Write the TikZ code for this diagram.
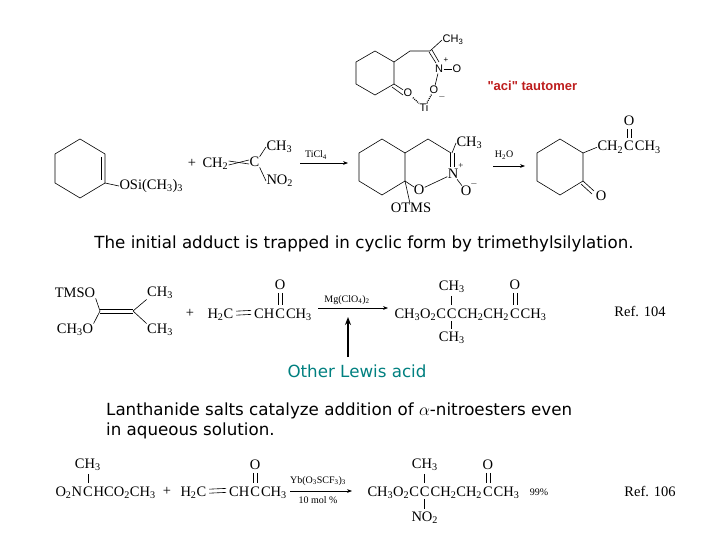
\documentclass[tikz,border=0pt]{standalone}
\usepackage{fontspec}
\setmainfont{Liberation Serif}
\newfontfamily\capf{DejaVu Sans}
\newfontfamily\arf{Liberation Sans}
\usetikzlibrary{arrows.meta}
\newcommand\ssub[1]{\textsubscript{#1}}
\definecolor{teal2}{RGB}{0,128,128}
\definecolor{aci}{RGB}{190,30,30}
\begin{document}
\begin{tikzpicture}[x=1pt,y=-1pt,
  ch/.style={font=\fontsize{14.5}{16}\selectfont, inner sep=0.3pt},
  sm/.style={font=\fontsize{10}{11}\selectfont, inner sep=1pt},
  captext/.style={font=\capf\fontsize{16.7}{20}\selectfont, inner sep=0pt},
  bd/.style={line width=0.6pt},
  vbd/.style={line width=0.6pt, shorten <=2.5pt, shorten >=2.5pt},
  rx/.style={-{Stealth[length=5pt]}, line width=0.6pt}]
\useasboundingbox (0,0) rectangle (720,540);
\fill[white] (0,0) rectangle (720,540);
% ---------- aci tautomer ----------
\begin{scope}[font=\arf\fontsize{11}{12}\selectfont]
\draw[bd] (375,51)--(394,62)--(394,84)--(375,95)--(356,84)--(356,62)--cycle;
\draw[bd] (394,62)--(410,51)--(430,51);
\node[inner sep=0.5pt,anchor=west] (ch3a) at (442,40) {CH\ssub3};
\draw[bd] (430,51)--(ch3a.west);
\node[inner sep=0.5pt] (na) at (439,69) {N};
\node[inner sep=0,font=\arf\fontsize{8}{8}\selectfont] at (446,60) {+};
\draw[bd] (429,52)--(436,63); \draw[bd] (432,50)--(439,62);
\node[inner sep=0.5pt] (oa1) at (457,69) {O};
\draw[bd] (na)--(oa1);
\node[inner sep=0.5pt] (oa2) at (434,90) {O};
\node[inner sep=0,font=\arf\fontsize{9}{8}\selectfont] at (442,97) {$-$};
\draw[bd] (na)--(oa2);
\node[inner sep=0.5pt] (oc) at (408,93) {O};
\draw[bd] (394,84)--(oc); \draw[bd] (392,87)--(403,95);
\node[inner sep=0.5pt] (ti) at (424,108) {Ti};
\draw[dash pattern=on 1pt off 1pt, line width=1.2pt] (oc)--(ti);
\draw[dash pattern=on 1pt off 1pt, line width=1.2pt] (oa2)--(ti);
\end{scope}
\node[font=\arf\bfseries\fontsize{13}{14}\selectfont, text=aci, anchor=west] (acit) at (484,86) {"aci" tautomer};
% ---------- row 1 ----------
\draw[bd] (80,139)--(105,154)--(105,183)--(80,198)--(55,183)--(55,154)--cycle;
\draw[bd] (101,157)--(101,180);
\node[ch,anchor=west] (osi) at (119,186) {OSi(CH\ssub3)\ssub3};
\draw[bd] (105,183)--(osi.west);
\node[ch] (p1) at (192,163) {+};
\node[ch,anchor=west] (ch2) at (202,164) {CH\ssub2};
\node[ch,anchor=west] (cc) at (249,162) {C};
\draw[bd] (ch2.east)++(0,-3)--([yshift=-2pt]cc.west); \draw[bd] (ch2.east)++(0,1)--([yshift=2pt]cc.west);
\node[ch,anchor=west] (ch3b) at (266,147) {CH\ssub3};
\node[ch,anchor=west] (no2) at (266,181) {NO\ssub2};
\draw[bd] (cc.north east)--(ch3b.west); \draw[bd] (cc.south east)--(no2.west);
\node[sm] (ticl) at (316,155) {TiCl\ssub4};
\draw[rx] (300,163)--(348,163);
% bicyclic
\draw[bd] (382,139)--(405,153)--(405,181)--(382,195)--(359,181)--(359,153)--cycle;
\draw[bd] (405,153)--(428,139)--(451,153);
\draw[bd] (405,181)--(414,187);
\node[ch] (ob) at (419,190) {O};
\node[ch] (nb) at (453,174) {N};
\node[inner sep=0,font=\fontsize{9}{8}\selectfont] at (461,166) {+};
\draw[bd] (450,153)--(450,167); \draw[bd] (454,153)--(454,167);
\draw[bd] (ob)--(nb);
\node[ch] (omb) at (466,191) {O};
\node[inner sep=0,font=\fontsize{9}{8}\selectfont] at (474,184) {$-$};
\draw[bd] (nb)--(omb);
\node[ch,anchor=west] (ch3c) at (456,143) {CH\ssub3};
\draw[bd] (452,153)--(ch3c.west);
\node[ch] (otms) at (411,208) {OTMS};
\draw[bd] (405,181)--(otms);
\node[sm] (h2o) at (504,155) {H\ssub2O};
\draw[rx] (493,166)--(525,166);
% product
\draw[bd] (560,139)--(583,153)--(583,181)--(560,195)--(537,181)--(537,153)--cycle;
\node[ch,anchor=base west] (ch2c) at (597,151) {CH\ssub2};
\node[ch,anchor=base west] (cco) at (ch2c.base east) {C};
\node[ch,anchor=base west] (cme) at (cco.base east) {CH\ssub3};
\draw[bd] (583,153)--(ch2c.west);
\node[ch] (ot) at (cco.center |- 0,121) {O};
\draw[vbd] ([xshift=-2pt]ot.south)--([xshift=-2pt]cco.north); \draw[vbd] ([xshift=2pt]ot.south)--([xshift=2pt]cco.north);
\node[ch] (ok) at (601,196) {O};
\draw[bd] (583,181)--(594,191); \draw[bd] (581,184)--(592,194);
\node[captext] (capt1) at (364,244) {The initial adduct is trapped in cyclic form by trimethylsilylation.};
% ---------- row 2 ----------
\node[ch] (tmso) at (75,293) {TMSO};
\node[ch] (ch3o) at (75,330) {CH\ssub3O};
\node[ch] (ch3d) at (160,293) {CH\ssub3};
\node[ch] (ch3e) at (160,330) {CH\ssub3};
\draw[bd] (tmso.south east)--(100,311); \draw[bd] (ch3o.north east)--(100,311);
\draw[bd] (100,309)--(133,309); \draw[bd] (100,313)--(133,313);
\draw[bd] (133,311)--(ch3d.south west); \draw[bd] (133,311)--(ch3e.north west);
\node[ch] (p2) at (190,313) {+};
\node[ch,anchor=base west] (h2c) at (207,318) {H\ssub2C};
\node[ch,anchor=base west] (chb) at ([xshift=20pt]h2c.base east) {CH};
\node[ch,anchor=base west] (cb) at (chb.base east) {C};
\node[ch,anchor=base west] (cmb) at (cb.base east) {CH\ssub3};
\draw[vbd] ([yshift=-1pt]h2c.east)--([yshift=-1pt]chb.west); \draw[vbd] ([yshift=3pt]h2c.east)--([yshift=3pt]chb.west);
\node[ch] (o2) at (cb.center |- 0,285) {O};
\draw[vbd] ([xshift=-2pt]o2.south)--([xshift=-2pt]cb.north); \draw[vbd] ([xshift=2pt]o2.south)--([xshift=2pt]cb.north);
\node[sm] (mg) at (347,300) {Mg(ClO\ssub4)\ssub2};
\draw[rx] (318,308)--(388,308);
\node[ch,anchor=base west] (q1) at (394,318) {CH\ssub3O\ssub2C};
\node[ch,anchor=base west] (q2) at (q1.base east) {C};
\node[ch,anchor=base west] (q3) at (q2.base east) {CH\ssub2CH\ssub2};
\node[ch,anchor=base west] (q4) at (q3.base east) {C};
\node[ch,anchor=base west] (q5) at (q4.base east) {CH\ssub3};
\node[ch] (ch3f) at (q2.center |- 0,287) {CH\ssub3};
\node[ch] (ch3g) at (q2.center |- 0,338) {CH\ssub3};
\draw[vbd] (ch3f.south -| q2.center)--(q2.north); \draw[vbd] (q2.south)--(ch3g.north -| q2.center);
\node[ch] (o3) at (q4.center |- 0,285) {O};
\draw[vbd] ([xshift=-2pt]o3.south)--([xshift=-2pt]q4.north); \draw[vbd] ([xshift=2pt]o3.south)--([xshift=2pt]q4.north);
\node[ch] (ref104) at (640,311) {Ref. 104};
\coordinate (va) at (348,357); \coordinate (vb) at (348,317);
\draw[-{Stealth[length=8pt,width=6pt]}, line width=1.6pt] (va)--(vb);
\node[captext,text=teal2] (lew) at (357,371) {Other Lewis acid};
\node[captext,anchor=west,align=left] (lan) at (106,421) {Lanthanide salts catalyze addition of $\alpha$-nitroesters even\\[0pt]in aqueous solution.};
% ---------- row 3 ----------
\node[ch,anchor=base west] (n1) at (55,496) {O\ssub2N};
\node[ch,anchor=base west] (n2) at (n1.base east) {C};
\node[ch,anchor=base west] (n3) at (n2.base east) {HCO\ssub2CH\ssub3};
\node[ch] (ch3h) at (n2.center |- 0,465) {CH\ssub3};
\draw[vbd] (ch3h.south -| n2.center)--(n2.north);
\node[ch] (p3) at (167,491) {+};
\node[ch,anchor=base west] (h2c3) at (180,496) {H\ssub2C};
\node[ch,anchor=base west] (ch3x) at ([xshift=22pt]h2c3.base east) {CH};
\node[ch,anchor=base west] (c3) at (ch3x.base east) {C};
\node[ch,anchor=base west] (cm3) at (c3.base east) {CH\ssub3};
\draw[vbd] ([yshift=-1pt]h2c3.east)--([yshift=-1pt]ch3x.west); \draw[vbd] ([yshift=3pt]h2c3.east)--([yshift=3pt]ch3x.west);
\node[ch] (o4) at (c3.center |- 0,465) {O};
\draw[vbd] ([xshift=-2pt]o4.south)--([xshift=-2pt]c3.north); \draw[vbd] ([xshift=2pt]o4.south)--([xshift=2pt]c3.north);
\node[sm] (yb) at (318,481) {Yb(O\ssub3SCF\ssub3)\ssub3};
\node[sm] (mol) at (318,500) {10 mol \%};
\draw[rx] (290,491)--(352,491);
\node[ch,anchor=base west] (r1) at (367,496) {CH\ssub3O\ssub2C};
\node[ch,anchor=base west] (r2) at (r1.base east) {C};
\node[ch,anchor=base west] (r3) at (r2.base east) {CH\ssub2CH\ssub2};
\node[ch,anchor=base west] (r4) at (r3.base east) {C};
\node[ch,anchor=base west] (r5) at (r4.base east) {CH\ssub3};
\node[ch] (ch3i) at (r2.center |- 0,465) {CH\ssub3};
\draw[vbd] (ch3i.south -| r2.center)--(r2.north);
\node[ch] (no2b) at (r2.center |- 0,518) {NO\ssub2};
\draw[vbd] (r2.south)--(no2b.north -| r2.center);
\node[ch] (o5) at (r4.center |- 0,465) {O};
\draw[vbd] ([xshift=-2pt]o5.south)--([xshift=-2pt]r4.north); \draw[vbd] ([xshift=2pt]o5.south)--([xshift=2pt]r4.north);
\node[sm] (y99) at (539,492) {99\%};
\node[ch] (ref106) at (650,491) {Ref. 106};
\end{tikzpicture}
\end{document}
